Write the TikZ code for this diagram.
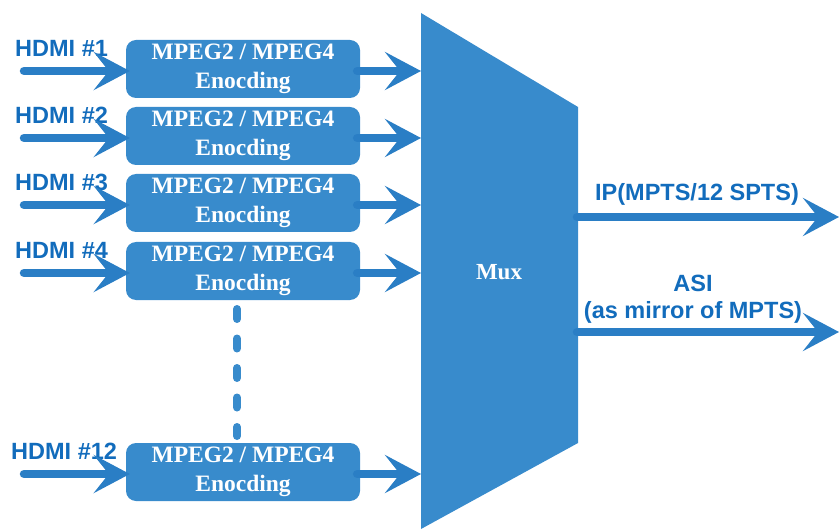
\documentclass[tikz,border=0pt]{standalone}
\usepackage{fontspec}
\setmainfont{Liberation Serif}
\setsansfont{Liberation Sans}
\usetikzlibrary{arrows.meta}
\definecolor{boxblue}{RGB}{56,139,204}
\definecolor{arrblue}{RGB}{42,126,197}
\definecolor{txtblue}{RGB}{18,108,188}
\tikzset{
  encbox/.style={fill=boxblue, rounded corners=10pt, minimum width=234pt, minimum height=58pt,
    inner sep=0pt, align=center, text=white, font=\fontsize{23.5}{29.5}\selectfont\bfseries},
  flow/.style={draw=arrblue, line width=8.5pt, line cap=round,
    -{Stealth[length=36pt, width=38pt, inset=15pt, fill=arrblue]}},
  lbl/.style={text=txtblue, font=\sffamily\bfseries\fontsize{23.5}{28}\selectfont, inner sep=0pt},
}
\begin{document}
\begin{tikzpicture}[x=1pt,y=-1pt]
\useasboundingbox (0,0) rectangle (840,529);
% mux
\coordinate (mtl) at (421,13);
\coordinate (mtr) at (578,107);
\coordinate (mbr) at (578,443);
\coordinate (mbl) at (421,529);
\fill[boxblue] (mtl) -- (mtr) -- (mbr) -- (mbl) -- cycle;
\node[text=white, font=\fontsize{23}{27}\selectfont\bfseries] (mux) at (499,272) {Mux};
% encoders
\foreach \i/\y/\lx in {1/69/15, 2/136/15, 3/203/15, 4/271/15, 12/472/11}{
  \node[encbox] (b\i) at (243,\y) {MPEG2 / MPEG4\\Enocding};
  \coordinate (in\i) at (24,\y+2);
  \coordinate (mx\i) at (421,\y+2);
  \node[lbl, anchor=west] (h\i) at (\lx,\y-21) {HDMI \#\i};
  \draw[flow] (in\i) -- ([xshift=4pt]in\i -| b\i.west);
  \draw[flow] ([xshift=-3pt]b\i.east |- mx\i) -- (mx\i);
}
% dots
\coordinate (d0) at (237,309);
\coordinate (d1) at (237,436);
\draw[boxblue, line width=8pt, line cap=round, dash pattern=on 10pt off 19.5pt] (d0) -- (d1);
% outputs
\coordinate (ip0) at (577,217);
\coordinate (ip1) at (839,217);
\coordinate (asi0) at (577,332);
\coordinate (asi1) at (839,332);
\draw[flow] (ip0) -- (ip1);
\draw[flow] (asi0) -- (asi1);
\node[lbl] (iplbl) at (697,194) {IP(MPTS/12 SPTS)};
\node[lbl] (asilbl) at (693,283) {ASI};
\node[lbl] (asilbl2) at (693,312) {(as mirror of MPTS)};
\end{tikzpicture}
\end{document}
